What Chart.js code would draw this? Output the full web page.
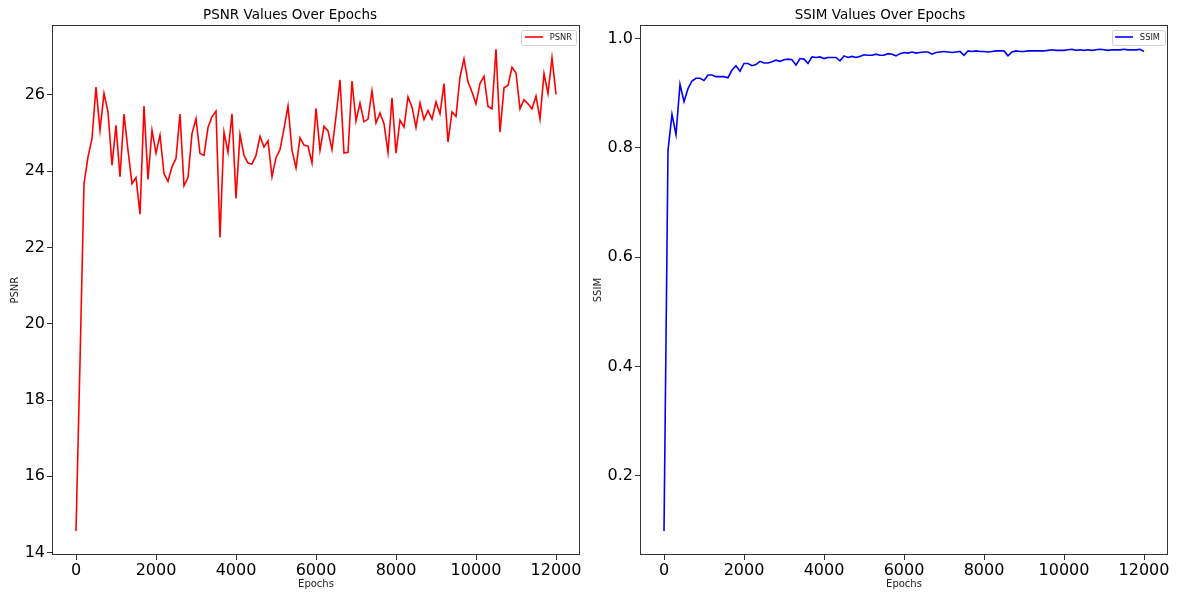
<!DOCTYPE html>
<html>
<head>
<meta charset="utf-8">
<script src="https://cdn.jsdelivr.net/npm/chart.js@4/dist/chart.umd.min.js"></script>
<style>
  html, body { margin: 0; padding: 0; background: #fff; overflow: hidden; width: 1184px; height: 592px; }
  canvas { position: absolute; top: 0; }
  #psnrChart { left: 0; }
  #ssimChart { left: 592px; }
</style>
</head>
<body>
<canvas id="ssimChart" width="624" height="592"></canvas>
<canvas id="psnrChart" width="632" height="592"></canvas>
<script>
const epochs = [
  0, 100, 200, 300, 400, 500, 600, 700, 800, 900,
  1000, 1100, 1200, 1300, 1400, 1500, 1600, 1700, 1800, 1900,
  2000, 2100, 2200, 2300, 2400, 2500, 2600, 2700, 2800, 2900,
  3000, 3100, 3200, 3300, 3400, 3500, 3600, 3700, 3800, 3900,
  4000, 4100, 4200, 4300, 4400, 4500, 4600, 4700, 4800, 4900,
  5000, 5100, 5200, 5300, 5400, 5500, 5600, 5700, 5800, 5900,
  6000, 6100, 6200, 6300, 6400, 6500, 6600, 6700, 6800, 6900,
  7000, 7100, 7200, 7300, 7400, 7500, 7600, 7700, 7800, 7900,
  8000, 8100, 8200, 8300, 8400, 8500, 8600, 8700, 8800, 8900,
  9000, 9100, 9200, 9300, 9400, 9500, 9600, 9700, 9800, 9900,
  10000, 10100, 10200, 10300, 10400, 10500, 10600, 10700, 10800, 10900,
  11000, 11100, 11200, 11300, 11400, 11500, 11600, 11700, 11800, 11900,
  12000
]

const psnrValues = [
  14.57, 19.0, 23.67, 24.37, 24.85, 26.2, 25.07, 26.03, 25.55, 24.15,
  25.2, 23.85, 25.49, 24.54, 23.67, 23.83, 22.87, 25.7, 23.78, 25.07,
  24.47, 24.94, 23.93, 23.73, 24.11, 24.33, 25.49, 23.61, 23.83, 24.98,
  25.37, 24.46, 24.41, 25.14, 25.42, 25.57, 22.26, 25.02, 24.49, 25.5,
  23.28, 24.96, 24.41, 24.21, 24.18, 24.41, 24.91, 24.63, 24.79, 23.85,
  24.35, 24.56, 25.11, 25.7, 24.54, 24.08, 24.87, 24.68, 24.65, 24.21,
  25.64, 24.54, 25.17, 25.05, 24.56, 25.43, 26.39, 24.47, 24.49, 26.36,
  25.31, 25.78, 25.29, 25.36, 26.1, 25.26, 25.52, 25.24, 24.49, 25.92,
  24.47, 25.33, 25.15, 25.94, 25.68, 25.14, 25.78, 25.35, 25.59, 25.36,
  25.81, 25.5, 26.29, 24.76, 25.55, 25.43, 26.46, 26.94, 26.33, 26.07,
  25.76, 26.29, 26.48, 25.69, 25.63, 27.19, 25.02, 26.18, 26.24, 26.72,
  26.57, 25.63, 25.87, 25.76, 25.63, 25.96, 25.36, 26.55, 26.03, 26.97,
  26.01
]

const ssimValues = [
  0.099, 0.795, 0.861, 0.824, 0.916, 0.884, 0.908, 0.922, 0.927, 0.927,
  0.923, 0.933, 0.933, 0.930, 0.930, 0.930, 0.928, 0.942, 0.950, 0.940,
  0.954, 0.954, 0.950, 0.952, 0.958, 0.955, 0.955, 0.957, 0.960, 0.958,
  0.961, 0.962, 0.961, 0.951, 0.963, 0.962, 0.954, 0.966, 0.965, 0.966,
  0.963, 0.965, 0.965, 0.965, 0.959, 0.968, 0.965, 0.967, 0.965, 0.967,
  0.970, 0.969, 0.969, 0.971, 0.969, 0.969, 0.972, 0.971, 0.968, 0.972,
  0.974, 0.973, 0.975, 0.973, 0.974, 0.975, 0.975, 0.971, 0.974, 0.975,
  0.976, 0.975, 0.974, 0.975, 0.976, 0.969, 0.977, 0.976, 0.977, 0.976,
  0.976, 0.975, 0.976, 0.977, 0.977, 0.977, 0.968, 0.975, 0.977, 0.976,
  0.976, 0.977, 0.977, 0.977, 0.977, 0.977, 0.978, 0.979, 0.978, 0.978,
  0.978, 0.979, 0.980, 0.978, 0.979, 0.978, 0.979, 0.978, 0.979, 0.980,
  0.979, 0.978, 0.979, 0.979, 0.979, 0.980, 0.979, 0.979, 0.979, 0.980,
  0.976
]

const epochTicks = [0, 2000, 4000, 6000, 8000, 10000, 12000]
const psnrTicks = [14, 16, 18, 20, 22, 24, 26]
const ssimTicks = [0.2, 0.4, 0.6, 0.8, 1.0]

const FONT = 'DejaVu Sans'
const SPINE = '#333333'

// pad a range by 5% on each side, the way matplotlib autoscales
function paddedRange(values) {
  const lo = Math.min(...values)
  const hi = Math.max(...values)
  const m = (hi - lo) * 0.05
  return { min: lo - m, max: hi + m }
}

// full box around the plot area, plus a small framed legend in the top right corner
const framePlugin = {
  id: 'frame',
  afterDraw(chart) {
    const { ctx, chartArea: a } = chart
    ctx.save()
    ctx.strokeStyle = SPINE
    ctx.lineWidth = 1
    ctx.strokeRect(Math.round(a.left) + 0.5, Math.round(a.top) + 0.5,
      Math.round(a.right - a.left) - 1, Math.round(a.bottom - a.top) - 1)

    const ds = chart.data.datasets[0]
    ctx.font = `8.3px "${FONT}"`
    const tw = ctx.measureText(ds.label).width
    const boxRight = a.right - 3.5
    const textRight = boxRight - 4.5
    const textLeft = textRight - tw
    const lineRight = textLeft - 6.8
    const lineLeft = lineRight - 18
    const boxLeft = lineLeft - 3.5
    const boxTop = a.top + 4.3
    const boxH = 15
    const cy = boxTop + boxH / 2

    ctx.fillStyle = 'rgba(255,255,255,0.8)'
    ctx.strokeStyle = '#d2d2d2'
    ctx.beginPath()
    ctx.roundRect(Math.round(boxLeft) + 0.5, Math.round(boxTop) + 0.5,
      Math.round(boxRight - boxLeft), Math.round(boxH), 2)
    ctx.fill()
    ctx.stroke()

    ctx.strokeStyle = ds.borderColor
    ctx.lineWidth = 1.6
    ctx.beginPath()
    ctx.moveTo(lineLeft, cy)
    ctx.lineTo(lineRight, cy)
    ctx.stroke()

    ctx.fillStyle = '#222'
    ctx.textBaseline = 'middle'
    ctx.textAlign = 'left'
    ctx.fillText(ds.label, textLeft, cy + 0.5)
    ctx.restore()
  }
}

function makeChart(id, opts) {
  const yr = paddedRange(opts.values)
  const xr = paddedRange(epochs)
  return new Chart(document.getElementById(id), {
    type: 'line',
    data: {
      datasets: [{
        label: opts.label,
        data: epochs.map((e, i) => ({ x: e, y: opts.values[i] })),
        borderColor: opts.color,
        backgroundColor: opts.color,
        borderWidth: 1.6,
        pointRadius: 0,
        tension: 0,
        fill: false
      }]
    },
    options: {
      responsive: false,
      animation: false,
      layout: { padding: { left: 0, right: opts.padRight, top: 0, bottom: 0 } },
      plugins: {
        title: {
          display: true,
          text: opts.title,
          color: '#000',
          font: { family: FONT, size: 13.5, weight: 'normal' },
          padding: { top: 7, bottom: 2 }
        },
        legend: { display: false },
        tooltip: { enabled: false }
      },
      scales: {
        x: {
          type: 'linear',
          min: xr.min,
          max: xr.max,
          afterFit: (s) => { s.height = 37 },
          afterBuildTicks: (s) => { s.ticks = epochTicks.map(v => ({ value: v })) },
          border: { display: false },
          grid: { drawOnChartArea: false, drawTicks: true, tickLength: 5, tickColor: SPINE },
          ticks: {
            maxRotation: 0,
            autoSkip: false,
            padding: 1,
            color: '#000',
            font: { family: FONT, size: 16 },
            callback: (v) => String(v)
          },
          title: {
            display: true,
            text: 'Epochs',
            color: '#222',
            font: { family: FONT, size: 10 },
            padding: { top: 0, bottom: 2 }
          }
        },
        y: {
          min: yr.min,
          max: yr.max,
          afterFit: (s) => { s.width = opts.axisWidth },
          afterBuildTicks: (s) => { s.ticks = opts.ticks.map(v => ({ value: v })) },
          border: { display: false },
          grid: { drawOnChartArea: false, drawTicks: true, tickLength: 5, tickColor: SPINE },
          ticks: {
            autoSkip: false,
            padding: 2,
            color: '#000',
            font: { family: FONT, size: 16 },
            callback: opts.tickFormat
          },
          title: {
            display: true,
            text: opts.label,
            color: '#222',
            font: { family: FONT, size: 10 },
            padding: { top: opts.titlePad, bottom: 0 }
          }
        }
      }
    },
    plugins: [framePlugin]
  })
}

makeChart('psnrChart', {
  title: 'PSNR Values Over Epochs',
  label: 'PSNR',
  values: psnrValues,
  ticks: psnrTicks,
  color: '#ff0000',
  tickFormat: (v) => String(v),
  axisWidth: 52,
  padRight: 52,
  titlePad: 9
})

makeChart('ssimChart', {
  title: 'SSIM Values Over Epochs',
  label: 'SSIM',
  values: ssimValues,
  ticks: ssimTicks,
  color: '#0000ff',
  tickFormat: (v) => v.toFixed(1),
  axisWidth: 48,
  padRight: 48,
  titlePad: 0
})
</script>
</body>
</html>
